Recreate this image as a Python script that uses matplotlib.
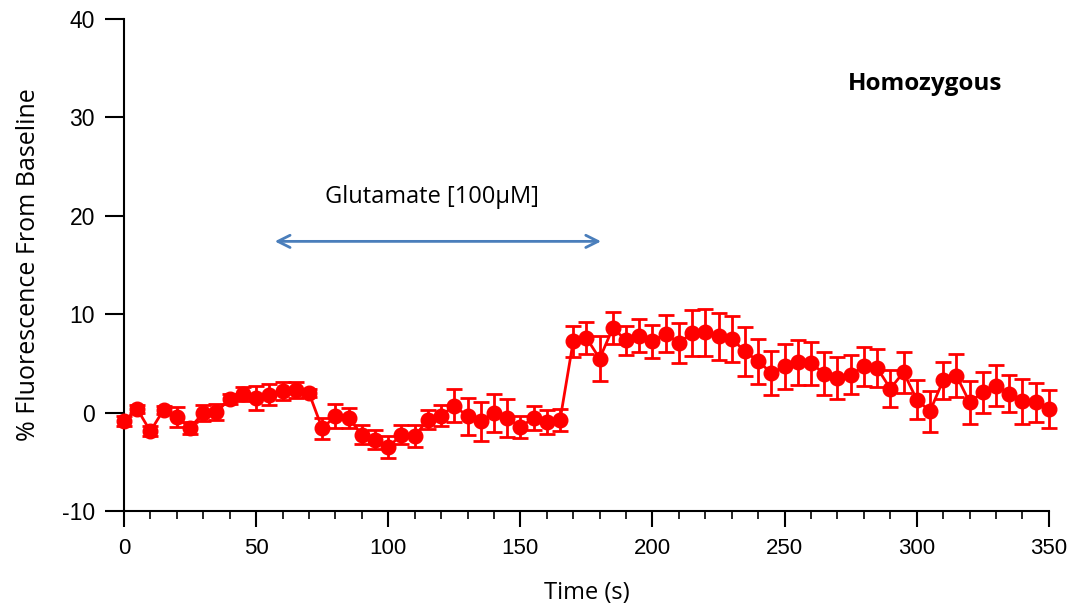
import numpy as np
import matplotlib.pyplot as plt
from matplotlib.ticker import MultipleLocator

# time points (s) and mean % fluorescence change, with SEM
time = np.arange(0, 355, 5)
fluor = [-0.88, 0.37, -1.9, 0.3, -0.47, -1.56, -0.03, 0.05, 1.39, 1.9,
         1.49, 1.83, 2.17, 2.27, 2.0, -1.6, -0.37, -0.54, -2.24, -2.74,
         -3.52, -2.24, -2.4, -0.71, -0.3, 0.71, -0.37, -0.88, -0.03, -0.54,
         -1.46, -0.54, -0.98, -0.78, 7.25, 7.59, 5.49, 8.6, 7.35, 7.82,
         7.25, 8.03, 7.08, 8.1, 8.16, 7.75, 7.49, 6.23, 5.21, 4.03,
         4.7, 5.11, 5.02, 3.96, 3.52, 3.86, 4.7, 4.54, 2.44, 4.1,
         1.32, 0.14, 3.29, 3.76, 1.05, 2.07, 2.74, 1.93, 1.15, 1.05, 0.37]
sem = [0.5, 0.4, 0.5, 0.4, 1.0, 0.6, 0.8, 0.8, 0.5, 0.7,
       1.2, 1.1, 0.9, 0.8, 0.4, 1.1, 1.2, 1.0, 1.0, 1.0,
       1.1, 1.0, 1.1, 1.0, 1.1, 1.7, 1.9, 2.0, 1.9, 1.9,
       1.1, 1.2, 1.2, 1.1, 1.6, 1.6, 2.3, 1.6, 1.5, 1.7,
       1.7, 1.9, 2.0, 2.3, 2.4, 2.4, 2.3, 2.5, 2.3, 2.2,
       2.3, 2.3, 2.2, 2.2, 2.1, 2.0, 2.0, 1.9, 1.9, 2.1,
       2.0, 2.1, 1.9, 2.2, 2.2, 2.1, 2.1, 1.9, 2.3, 2.0, 1.9]

glu_start, glu_end = 56, 181.6

plt.rcParams['font.family'] = ['Open Sans', 'DejaVu Sans']
plt.rcParams['axes.unicode_minus'] = False

fig = plt.figure(figsize=(10.78, 6.08), dpi=100)
ax = fig.add_axes([0.115, 0.1595, 0.858, 0.8093])

ax.errorbar(time, fluor, yerr=sem, color='#ff0000', marker='o', markersize=10.5,
            linewidth=2, elinewidth=2, capsize=5.5, capthick=2, zorder=3,
            clip_on=False)

ax.annotate('', xy=(glu_start, 17.4), xytext=(glu_end, 17.4),
            arrowprops=dict(arrowstyle='<->', color='#4a7ebb', lw=2,
                            mutation_scale=22))
ax.text(116.5, 21.9, 'Glutamate [100\u00b5M]',
        ha='center', va='center', fontsize=17)
ax.text(303, 33.4, 'Homozygous', ha='center', va='center', fontsize=17.5,
        fontweight='bold')

ax.set_xlim(0, 350)
ax.set_ylim(-10, 40)
ax.xaxis.set_major_locator(MultipleLocator(50))
ax.xaxis.set_minor_locator(MultipleLocator(10))
ax.yaxis.set_major_locator(MultipleLocator(10))

for s in ['top', 'right']:
    ax.spines[s].set_visible(False)
for s in ['left', 'bottom']:
    ax.spines[s].set_linewidth(1.5)

ax.tick_params(axis='y', which='major', direction='out', length=14, width=1.5,
               labelsize=16.5, pad=7)
ax.tick_params(axis='x', which='major', direction='out', length=11.5, width=1.5,
               labelsize=16, pad=8)
ax.tick_params(axis='x', which='minor', direction='out', length=6, width=1.2)
for lab in ax.get_yticklabels() + ax.get_xticklabels():
    lab.set_family(['Liberation Sans', 'DejaVu Sans'])

ax.set_xlabel('Time (s)', fontsize=17, labelpad=16)
ax.set_ylabel('% Fluorescence From Baseline', fontsize=18, labelpad=15)

fig.savefig('out.png', dpi=100)
